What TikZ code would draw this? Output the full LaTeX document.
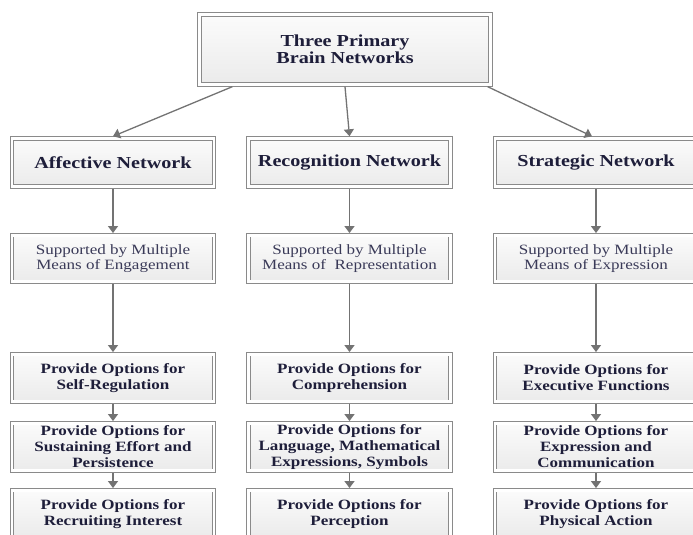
\documentclass[tikz,border=0pt]{standalone}
\usepackage{fontspec}
\setmainfont[FakeStretch=1.2]{Liberation Serif}
\usepackage{tikz}
\usetikzlibrary{arrows.meta,positioning}
\definecolor{framegray}{HTML}{8A8A8A}
\definecolor{linkgray}{HTML}{737373}
\definecolor{headtext}{HTML}{1E1E3A}
\definecolor{plaintext}{HTML}{3A3A58}

\begin{document}
\begin{tikzpicture}[
  x=1pt,y=-1pt,
  >={Triangle[width=10pt,length=7pt]},
  dblbox/.style={
    draw=framegray,line width=0.9pt,double=white,double distance=2.6pt,
    top color=gray!3,bottom color=gray!16,
    inner sep=0pt,outer sep=2.2pt,align=center
  },
  titlebox/.style={
    dblbox,minimum width=291pt,minimum height=70pt,
    text=headtext,font=\fontsize{16.8}{16.7}\selectfont\bfseries
  },
  netbox/.style={
    dblbox,minimum width=202pt,minimum height=48pt,
    text=headtext,font=\fontsize{16.8}{18}\selectfont\bfseries
  },
  meansbox/.style={
    dblbox,minimum width=202pt,minimum height=46.5pt,
    text=plaintext,font=\fontsize{14.2}{15}\selectfont
  },
  optbox/.style={
    dblbox,minimum width=202pt,minimum height=47.5pt,
    text=headtext,font=\fontsize{14.2}{16}\selectfont\bfseries
  },
  link/.style={->,draw=linkgray,line width=1.3pt}
]
\path[use as bounding box,clip] (0,0) rectangle (693,535);

% ---- root ----
\node[titlebox] (brain) at (345,49.5) {Three Primary\\Brain Networks};

% ---- the three networks ----
\node[netbox] (aff)   at (113,162.5)   {Affective Network};
\node[netbox] (rec)   at (349.5,162.5) {Recognition Network};
\node[netbox] (strat) at (596,162.5)   {Strategic Network};

\draw[link] ([xshift=35pt]brain.south west) -- (aff.north);
\draw[link] (brain.south) -- (rec.north);
\draw[link] ([xshift=-5pt]brain.south east) -- ([xshift=-4pt]strat.north);

% ---- means ----
\node[meansbox] (affmeans)   at (aff |- 0,258.5)   {Supported by Multiple\\Means of Engagement};
\node[meansbox] (recmeans)   at (rec |- 0,258.5)   {Supported by Multiple\\Means of\ \ Representation};
\node[meansbox] (stratmeans) at (strat |- 0,258.5) {Supported by Multiple\\Means of Expression};

% ---- options, three per network ----
\node[optbox] (aff1) at (aff |- 0,378) {Provide Options for\\Self-Regulation};
\node[optbox] (aff2) at (aff |- 0,447) {Provide Options for\\Sustaining Effort and\\Persistence};
\node[optbox] (aff3) at (aff |- 0,514) {Provide Options for\\Recruiting Interest};

\node[optbox] (rec1) at (rec |- 0,378) {Provide Options for\\Comprehension};
\node[optbox] (rec2) at (rec |- 0,447) {Provide Options for\\Language, Mathematical\\Expressions, Symbols};
\node[optbox] (rec3) at (rec |- 0,514) {Provide Options for\\Perception};

\node[optbox] (strat1) at (strat |- 0,378) {Provide Options for\\Executive Functions};
\node[optbox] (strat2) at (strat |- 0,447) {Provide Options for\\Expression and\\Communication};
\node[optbox] (strat3) at (strat |- 0,514) {Provide Options for\\Physical Action};

\foreach \col in {aff,rec,strat}{
  \draw[link] (\col) -- (\col means);
  \draw[link] (\col means) -- (\col 1);
  \draw[link] (\col 1) -- (\col 2);
  \draw[link] (\col 2) -- (\col 3);
}

\end{tikzpicture}
\end{document}
